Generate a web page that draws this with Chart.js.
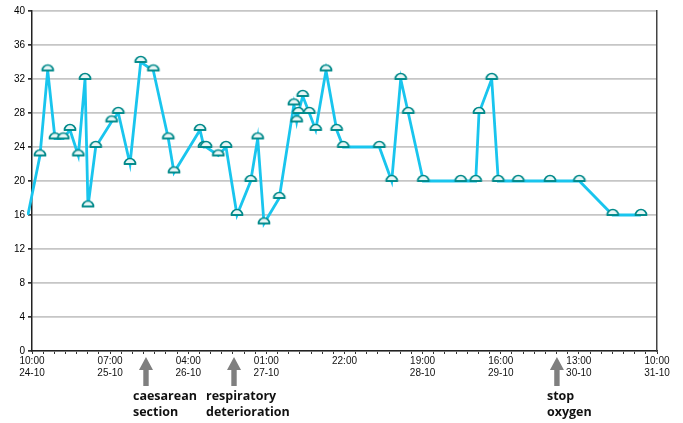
<!DOCTYPE html>
<html>
<head>
<meta charset="utf-8">
<script src="https://cdn.jsdelivr.net/npm/chart.js@4/dist/chart.umd.min.js"></script>
<style>
html,body{margin:0;padding:0;background:#fff;}
#wrap{width:683px;height:423px;position:relative;}
</style>
</head>
<body>
<div id="wrap"><canvas id="c" width="683" height="423"></canvas></div>
<script>
// ---- data ----
const hoursSinceStart = [-1.1, 2.15, 4.22, 6.18, 8.41, 10.21, 12.45, 14.25, 15.05, 17.12,
  21.42, 23.2, 26.34, 29.22, 32.61, 36.64, 38.17, 45.16, 46.23, 46.8,
  50.08, 52.15, 55.1, 58.79, 60.67, 62.36, 66.47, 70.4, 71.15, 71.6,
  72.77, 74.54, 76.26, 79.03, 81.9, 83.68, 93.36, 96.69, 99.11, 101.15,
  105.18, 115.24, 119.27, 120.15, 123.57, 125.34, 130.72, 139.24, 147.12, 156.09, 163.7];
const respRate = [16, 23, 33, 25, 25, 26, 23, 32, 17, 24,
  27, 28, 22, 34, 33, 25, 21, 26, 24, 24,
  23, 24, 16, 20, 25, 15, 18, 29, 27, 28,
  30, 28, 26, 33, 26, 24, 24, 20, 32, 28,
  20, 20, 20, 28, 32, 20, 20, 20, 20, 16, 16];
const tickTimes = ['10:00', '07:00', '04:00', '01:00', '22:00', '19:00', '16:00', '13:00', '10:00'];
const tickDates = ['24-10', '25-10', '26-10', '27-10', '', '28-10', '29-10', '30-10', '31-10'];
const eventHours = [30.64, 54.3, 141.1];
const eventLabels = [['caesarean', 'section'], ['respiratory', 'deterioration'], ['stop', 'oxygen']];

// ---- styles ----
const eventTextOffset = [-13, -28, -10];
const lineColor = '#19c5ee';
const markerColor = '#00898a';

function makeDome() {
  const c = document.createElement('canvas');
  c.width = 16; c.height = 16;
  const g = c.getContext('2d');
  g.beginPath();
  g.arc(8, 8, 5.5, Math.PI, 2 * Math.PI);
  g.closePath();
  g.fillStyle = '#e8f6f6';
  g.fill();
  g.lineWidth = 1.7;
  g.strokeStyle = markerColor;
  g.stroke();
  g.beginPath();
  g.moveTo(2, 8); g.lineTo(14, 8);
  g.stroke();
  return c;
}
const dome = makeDome();

const eventPlugin = {
  id: 'events',
  afterDraw(chart) {
    const ctx = chart.ctx;
    const xs = chart.scales.x;
    ctx.save();
    eventHours.forEach((h, i) => {
      const x = xs.getPixelForValue(h);
      const top = 357, headB = 370, bot = 386;
      ctx.fillStyle = '#7f7f7f';
      ctx.beginPath();
      ctx.moveTo(x, top);
      ctx.lineTo(x + 7, headB);
      ctx.lineTo(x + 2.7, headB);
      ctx.lineTo(x + 2.7, bot);
      ctx.lineTo(x - 2.7, bot);
      ctx.lineTo(x - 2.7, headB);
      ctx.lineTo(x - 7, headB);
      ctx.closePath();
      ctx.fill();
      ctx.fillStyle = '#111';
      ctx.font = 'bold 12.5px "Open Sans", "DejaVu Sans", sans-serif';
      ctx.textAlign = 'left';
      ctx.textBaseline = 'middle';
      eventLabels[i].forEach((t, j) => {
        ctx.fillText(t, x + eventTextOffset[i], 396 + j * 16);
      });
    });
    ctx.restore();
  }
};

new Chart(document.getElementById('c'), {
  type: 'line',
  data: {
    datasets: [{
      data: hoursSinceStart.map((h, i) => ({ x: h, y: respRate[i] })),
      borderColor: lineColor,
      borderWidth: 2.8,
      tension: 0,
      pointStyle: dome,
      pointRadius: (ctx) => ctx.dataIndex === 0 ? 0 : 5,
      clip: { left: 5, top: 0, right: 0, bottom: 0 }
    }]
  },
  options: {
    responsive: false,
    animation: false,
    events: [],
    layout: { padding: { left: 0, right: 26, top: 11, bottom: 0 } },
    plugins: { legend: { display: false }, tooltip: { enabled: false } },
    scales: {
      x: {
        type: 'linear',
        min: 0, max: 168,
        afterFit(s) { s.height = 72; s.paddingLeft = 0; s.paddingRight = 0; },
        ticks: {
          stepSize: 3,
          autoSkip: false,
          maxRotation: 0,
          padding: 1,
          color: '#111',
          font: { family: '"Liberation Sans Narrow", "Liberation Sans", Arial, sans-serif', size: 10 },
          callback(v) {
            if (Math.abs(v % 21) < 0.001) {
              const i = Math.round(v / 21);
              return tickDates[i] ? [tickTimes[i], tickDates[i]] : [tickTimes[i], ''];
            }
            return '';
          }
        },
        grid: { drawOnChartArea: false, tickLength: 3, color: '#333', lineWidth: 1 },
        border: { color: '#222', width: 1.5 }
      },
      y: {
        min: 0, max: 40,
        afterFit(s) { s.width = 32; s.paddingTop = 0; s.paddingBottom = 0; },
        ticks: {
          stepSize: 4,
          padding: 3,
          color: '#000',
          font: { family: '"Liberation Sans", Arial, sans-serif', size: 10 }
        },
        grid: { color: '#c6c6c6', lineWidth: 1.7, tickLength: 4, tickColor: '#333' },
        border: { color: '#222', width: 1.5 }
      },
      yR: {
        position: 'right',
        min: 0, max: 40,
        afterFit(s) { s.width = 0; },
        ticks: { display: false },
        grid: { drawOnChartArea: false, drawTicks: false },
        border: { color: '#444', width: 1.5 }
      }
    }
  },
  plugins: [eventPlugin]
});
</script>
</body>
</html>
